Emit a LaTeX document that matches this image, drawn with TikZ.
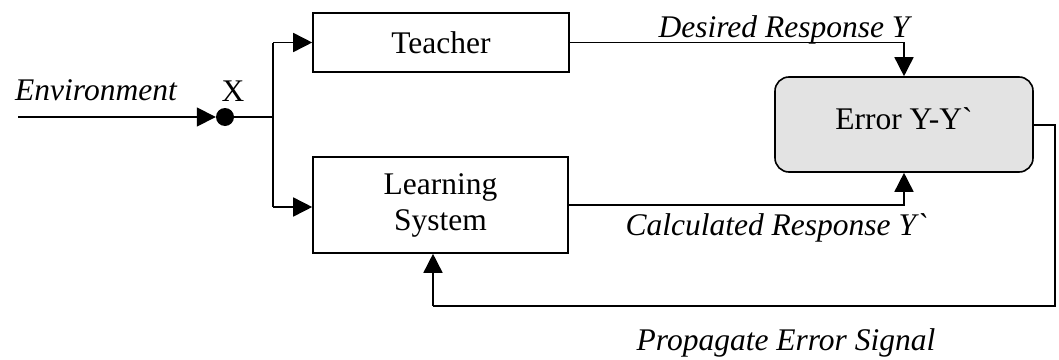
\documentclass[tikz,border=0pt]{standalone}
\usepackage{fontspec}
\setmainfont{Liberation Serif}[Ligatures=TeXOff]
\usetikzlibrary{arrows.meta}
\begin{document}
\begin{tikzpicture}[x=1pt,y=-1pt,
  every node/.style={font=\fontsize{31.5}{35}\selectfont},
  block/.style={draw,line width=1.6pt,inner sep=0pt},
  lbl/.style={font=\fontsize{31.5}{35}\selectfont\itshape,inner sep=0pt,anchor=base},
  wire/.style={line width=1.6pt},
  flow/.style={wire,-{Triangle[length=19pt,width=19pt]}}]
\useasboundingbox (0,0) rectangle (1059,359);
% blocks
\node[block,minimum width=256pt,minimum height=59pt] (teacher) at (441,42.5) {Teacher};
\node[block,minimum width=255pt,minimum height=96pt,align=center] (ls) at (440.5,205)
  {Learning\\[1pt]System};
\node[block,rounded corners=14pt,fill=gray!22,minimum width=258pt,minimum height=95pt] (err) at (904,124.5)
  {\raisebox{12pt}{Error Y-Y`}};
\node[circle,fill,inner sep=0pt,minimum size=18pt] (dot) at (225,117) {};
% helper points
\coordinate (src) at (18,117);
\coordinate (split) at (273,117);
\coordinate (tin) at (273,42.5);
\coordinate (lin) at (273,207);
\coordinate (eo) at (1055,125);
\coordinate (eb) at (1055,306);
\coordinate (lb) at (433,306);
% connectors
\draw[flow] (src) -- (dot.west);
\draw[wire] (dot.east) -- (split);
\draw[wire] (tin) -- (lin);
\draw[flow] (tin) -- (teacher.west);
\draw[flow] (lin) -- (ls.west |- lin);
\draw[flow] (teacher.east) -| (err.north);
\draw[flow] (ls.east) -| (err.south);
\draw[wire] (err.east |- eo) -- (eo) -- (eb) -- (lb);
\draw[flow] (lb) -- (lb |- ls.south);
% labels
\node[lbl] (envl) at (96,100) {Environment};
\node[lbl,font=\fontsize{31.5}{35}\selectfont] (xl) at (233,101) {X};
\node[lbl] (dr) at (784,37) {Desired Response Y};
\node[lbl] (cr) at (776,235) {Calculated Response Y`};
\node[lbl] (pe) at (786,350) {Propagate Error Signal};
\end{tikzpicture}
\end{document}
